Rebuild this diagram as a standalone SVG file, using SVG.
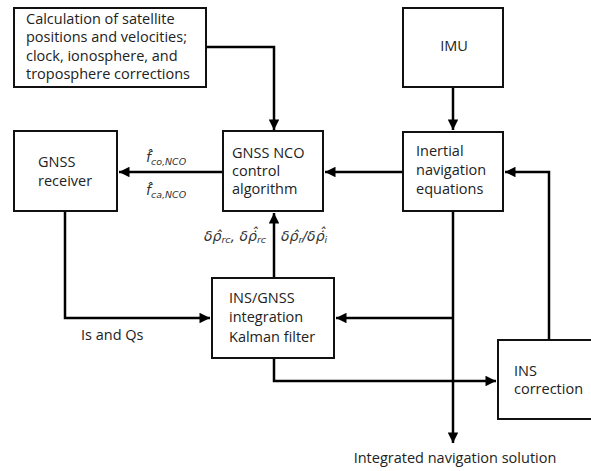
<svg xmlns="http://www.w3.org/2000/svg" width="591" height="471" viewBox="0 0 591 471">
<defs>
<style>
.box{fill:#fff;stroke:#111;stroke-width:2}
.t{font-family:"Open Sans","Liberation Sans",sans-serif;font-size:14.5px;fill:#222}
.m{font-family:"DejaVu Sans","Noto Sans",sans-serif;font-style:italic;font-size:14px;fill:#333}
.s{font-size:9.5px}
.c{fill:none;stroke:#000;stroke-width:2.5}
</style>
<marker id="ah" viewBox="0 0 10 10" refX="10" refY="5" markerWidth="4.8" markerHeight="4.2" markerUnits="strokeWidth" orient="auto">
<path d="M0,0 L10,5 L0,10 z" fill="#000"/>
</marker>
</defs>
<rect width="591" height="471" fill="#fff"/>
<g id="connectors">
<path class="c" d="M206,47 H274 V130" marker-end="url(#ah)"/>
<path class="c" d="M453,87 V130" marker-end="url(#ah)"/>
<path class="c" d="M403,172 H325" marker-end="url(#ah)"/>
<path class="c" d="M223,172 H119" marker-end="url(#ah)"/>
<path class="c" d="M549,340 V172 H505" marker-end="url(#ah)"/>
<path class="c" d="M65,211 V318 H210" marker-end="url(#ah)"/>
<path class="c" d="M274,278 V213" marker-end="url(#ah)"/>
<path class="c" d="M453,211 V443" marker-end="url(#ah)"/>
<path class="c" d="M453,318 H336" marker-end="url(#ah)"/>
<path class="c" d="M274,358 V381 H496" marker-end="url(#ah)"/>
<text class="m" x="146" y="162">f̂<tspan class="s" dy="3">co,NCO</tspan></text>
<text class="m" x="146" y="195">f̂<tspan class="s" dy="3">ca,NCO</tspan></text>
<text class="m" x="204" y="241">δρ̂<tspan class="s" dy="2">rc</tspan><tspan dy="-2">, δρ̇̂</tspan><tspan class="s" dy="2">rc</tspan></text>
<text class="m" x="281" y="241">δρ̂<tspan class="s" dy="2">r</tspan><tspan dy="-2">/δρ̇̂</tspan><tspan class="s" dy="2">i</tspan></text>
<text class="t" x="81" y="340">Is and Qs</text>
<text class="t" x="455" y="463" text-anchor="middle">Integrated navigation solution</text>
</g>
<g id="calc">
<rect class="box" x="14" y="8" width="192" height="79"/>
<text class="t" x="26" y="24">Calculation of satellite</text>
<text class="t" x="26" y="42">positions and velocities;</text>
<text class="t" x="26" y="61">clock, ionosphere, and</text>
<text class="t" x="26" y="79">troposphere corrections</text>
</g>
<g id="imu">
<rect class="box" x="403" y="8" width="100" height="79"/>
<text class="t" x="454" y="51" text-anchor="middle">IMU</text>
</g>
<g id="receiver">
<rect class="box" x="14" y="131" width="103" height="80"/>
<text class="t" x="38" y="167">GNSS</text>
<text class="t" x="38" y="186">receiver</text>
</g>
<g id="nco">
<rect class="box" x="223" y="131" width="100" height="80"/>
<text class="t" x="232" y="158">GNSS NCO</text>
<text class="t" x="232" y="176">control</text>
<text class="t" x="232" y="194">algorithm</text>
</g>
<g id="inertial">
<rect class="box" x="403" y="132" width="100" height="79"/>
<text class="t" x="416" y="156">Inertial</text>
<text class="t" x="416" y="175">navigation</text>
<text class="t" x="416" y="194">equations</text>
</g>
<g id="kalman">
<rect class="box" x="212" y="278" width="122" height="80"/>
<text class="t" x="229" y="303">INS/GNSS</text>
<text class="t" x="229" y="322">integration</text>
<text class="t" x="229" y="342">Kalman filter</text>
</g>
<g id="inscorr">
<rect class="box" x="498" y="340" width="100" height="79"/>
<text class="t" x="514" y="376">INS</text>
<text class="t" x="514" y="394">correction</text>
</g>
</svg>
